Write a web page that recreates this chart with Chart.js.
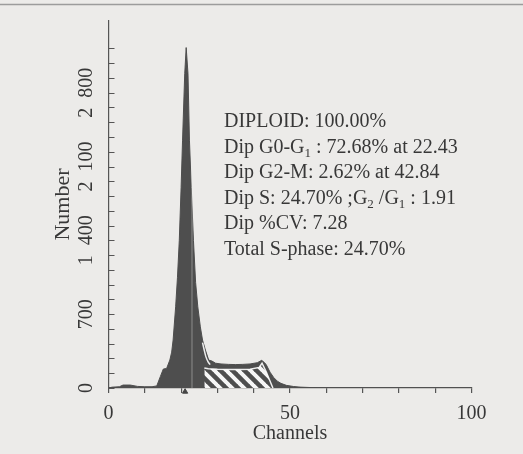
<!DOCTYPE html>
<html>
<head>
<meta charset="utf-8">
<script src="https://cdn.jsdelivr.net/npm/chart.js@4.4.0/dist/chart.umd.min.js"></script>
<style>
  html, body { margin: 0; padding: 0; background: #ecebe9; }
  canvas { display: block; }
</style>
</head>
<body>
<canvas id="dnaChart" width="523" height="454"></canvas>
<script>
// histogram envelope (channel -> cell count)
const channels = [0, 1, 3, 4, 6, 8, 10, 12, 13.3, 14.3, 15.1, 16.0, 16.9, 17.4, 17.8, 18.5, 19.0, 19.5, 20.0, 20.4, 21.0, 21.4, 21.9, 22.3, 22.8, 23.4, 24.0, 24.6, 25.3, 25.9, 26.7, 27.6, 28.5, 29.5, 31, 33, 35, 37, 39, 41, 42.2, 43.0, 43.5, 44.5, 45.5, 46.5, 47.5, 49, 51, 53, 56, 60, 100];
const counts = [0, 8, 12, 28, 28, 15, 12, 12, 20, 110, 180, 185, 265, 340, 455, 770, 1050, 1400, 1900, 2350, 2980, 3228, 2980, 2350, 1900, 1400, 1000, 770, 580, 455, 360, 265, 255, 235, 228, 224, 222, 224, 228, 240, 262, 240, 218, 150, 100, 65, 44, 25, 14, 8, 4, 0, 0];

// S-phase (hatched) area
const sPhaseChannels = [26.4, 27.5, 30, 33, 36, 39, 41.5, 42.3, 43.5, 44.8, 45.3];
const sPhaseCounts = [190, 182, 178, 176, 176, 178, 195, 235, 150, 40, 0];

// white outline of the G1 tail fit
const g1TailChannels = [25.9, 26.3, 26.8, 27.4, 28.0];
const g1TailCounts = [430, 370, 300, 250, 222];

const g1MarkerChannel = 21.1;
const meanLineChannel = 23.0;
const meanLineTop = 2100;

const yLabelValues = [0, 700, 1400, 2100, 2800];
const yLabelTexts = ['0', '700', '1\u2002400', '2\u2002100', '2\u2002800'];

const infoLines = [
  [['DIPLOID: 100.00%']],
  [['Dip G0-G'], ['1', 'sub'], [' : 72.68% at 22.43']],
  [['Dip G2-M: 2.62% at 42.84']],
  [['Dip S: 24.70% ;G'], ['2', 'sub'], [' /G'], ['1', 'sub'], [' : 1.91']],
  [['Dip %CV: 7.28']],
  [['Total S-phase: 24.70%']]
];

const serif = '"Liberation Serif", "Times New Roman", serif';
const inkColor = '#383838';
const axisColor = '#555555';
const fillColor = '#4e4e4e';

Chart.defaults.font.family = serif;
Chart.defaults.color = inkColor;

const toPoints = (xs, ys) => xs.map((x, i) => ({ x, y: ys[i] }));

function makeHatch() {
  const s = 12;
  const c = document.createElement('canvas');
  c.width = s;
  c.height = s;
  const g = c.getContext('2d');
  g.strokeStyle = 'rgba(255,255,255,0.95)';
  g.lineWidth = 4;
  g.beginPath();
  g.moveTo(-1, -1); g.lineTo(s + 1, s + 1);
  g.moveTo(-s - 1, -1); g.lineTo(1, s + 1);
  g.moveTo(s - 1, -1); g.lineTo(2 * s + 1, s + 1);
  g.stroke();
  return g.createPattern(c, 'repeat');
}

const decorPlugin = {
  id: 'decor',
  beforeDraw(chart) {
    const { ctx, width } = chart;
    ctx.save();
    ctx.fillStyle = '#ecebe9';
    ctx.fillRect(0, 0, width, chart.height);
    ctx.strokeStyle = '#9c9c9c';
    ctx.lineWidth = 1.5;
    ctx.beginPath();
    ctx.moveTo(0, 4.5);
    ctx.lineTo(width, 4.5);
    ctx.stroke();
    ctx.restore();
  },
  afterDraw(chart) {
    const { ctx } = chart;
    const y = chart.scales.y;

    // inward ticks on the count axis
    ctx.save();
    ctx.strokeStyle = axisColor;
    ctx.lineWidth = 1.2;
    ctx.beginPath();
    y.ticks.forEach(t => {
      if (t.value % 140 !== 0) return;
      const py = Math.round(y.getPixelForValue(t.value)) + 0.5;
      ctx.moveTo(y.right, py);
      ctx.lineTo(y.right + 6, py);
    });
    ctx.stroke();

    // rotated count labels
    ctx.fillStyle = inkColor;
    ctx.font = '20px ' + serif;
    ctx.textAlign = 'center';
    ctx.textBaseline = 'middle';
    yLabelValues.forEach((v, i) => {
      ctx.save();
      ctx.translate(86.5, y.getPixelForValue(v));
      ctx.rotate(-Math.PI / 2);
      ctx.fillText(yLabelTexts[i], 0, 0);
      ctx.restore();
    });

    // analysis summary
    ctx.textAlign = 'left';
    ctx.textBaseline = 'alphabetic';
    infoLines.forEach((runs, li) => {
      let x = 224;
      const base = 127 + li * 25.5;
      runs.forEach(([txt, kind]) => {
        if (kind === 'sub') {
          ctx.font = '13px ' + serif;
          ctx.fillText(txt, x, base + 4);
        } else {
          ctx.font = '20px ' + serif;
          ctx.fillText(txt, x, base);
        }
        x += ctx.measureText(txt).width;
      });
    });
    ctx.restore();
  }
};

new Chart(document.getElementById('dnaChart'), {
  type: 'line',
  data: {
    datasets: [
      {
        label: 'Histogram',
        data: toPoints(channels, counts),
        borderColor: fillColor,
        borderWidth: 1,
        backgroundColor: fillColor,
        fill: 'origin',
        pointRadius: 0,
        tension: 0,
        order: 5
      },
      {
        label: 'S-phase',
        data: toPoints(sPhaseChannels, sPhaseCounts),
        borderColor: 'rgba(255,255,255,0.9)',
        borderWidth: 1.5,
        backgroundColor: makeHatch(),
        fill: 'origin',
        pointRadius: 0,
        tension: 0,
        order: 4
      },
      {
        label: 'G1 tail',
        data: toPoints(g1TailChannels, g1TailCounts),
        borderColor: 'rgba(255,255,255,0.9)',
        borderWidth: 1.5,
        fill: false,
        pointRadius: 0,
        tension: 0.3,
        order: 3
      },
      {
        label: 'Mean line',
        data: [{ x: meanLineChannel, y: 0 }, { x: meanLineChannel, y: meanLineTop }],
        borderColor: 'rgba(236,235,233,0.4)',
        borderWidth: 1,
        fill: false,
        pointRadius: 0,
        order: 2
      },
      {
        type: 'scatter',
        label: 'G1 marker',
        data: [{ x: g1MarkerChannel, y: -35 }],
        pointStyle: 'triangle',
        pointRadius: 3,
        backgroundColor: '#444',
        borderColor: '#444',
        clip: false,
        order: 1
      }
    ]
  },
  options: {
    responsive: false,
    animation: false,
    layout: { padding: { top: 21, right: 51.5, bottom: 10, left: 0 } },
    plugins: { legend: { display: false }, tooltip: { enabled: false } },
    scales: {
      x: {
        type: 'linear',
        min: 0,
        max: 100,
        ticks: {
          stepSize: 10,
          autoSkip: false,
          maxRotation: 0,
          padding: 9,
          font: { size: 20 },
          color: inkColor,
          callback: v => (v % 50 === 0 ? String(v) : '')
        },
        grid: { display: true, drawOnChartArea: false, drawTicks: true, tickLength: 5, color: axisColor, lineWidth: 1.2 },
        border: { color: axisColor, width: 1.2 },
        title: { display: true, text: 'Channels', font: { size: 20, lineHeight: 1.0 }, padding: { top: -11, bottom: 0 }, color: inkColor }
      },
      y: {
        min: 0,
        max: 3480,
        ticks: { stepSize: 140, display: false },
        grid: { display: false },
        border: { color: axisColor, width: 1.2 },
        title: { display: true, text: 'Number', font: { size: 22, lineHeight: 1.2 }, padding: { top: 49.8, bottom: 24.3 }, color: inkColor }
      }
    }
  },
  plugins: [decorPlugin]
});
</script>
</body>
</html>
